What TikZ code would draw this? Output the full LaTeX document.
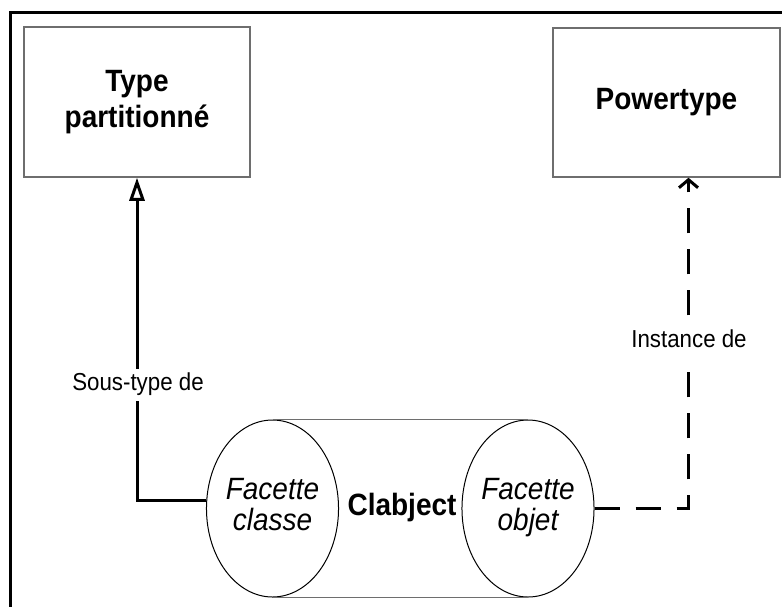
\documentclass[tikz,border=0pt]{standalone}
\usepackage{fontspec}
\setmainfont{Liberation Sans}
\usetikzlibrary{arrows.meta,shapes.geometric,calc}
\definecolor{boxgrey}{RGB}{110,110,110}
% text set a little taller than its width
\newcommand{\tallstack}[1]{\scalebox{1}[1.1]{\begin{tabular}{@{}c@{}}#1\end{tabular}}}
\begin{document}
\begin{tikzpicture}[x=1pt,y=1pt,
  classbox/.style={draw=boxgrey, line width=1.5pt, inner sep=0pt,
    minimum width=226pt, minimum height=150pt,
    font=\fontsize{28}{33}\selectfont\bfseries},
  facet/.style={draw=black, line width=1pt, ellipse, inner sep=0pt,
    minimum height=177pt,
    font=\fontsize{28}{27}\selectfont\itshape},
  body/.style={draw=boxgrey, line width=1.8pt},
  conn/.style={draw=black, line width=3pt},
  inst/.style={conn, dash pattern=on 25pt off 16pt},
  lbl/.style={fill=white, inner sep=2pt, font=\fontsize{22.3}{26}\selectfont}
]
\useasboundingbox (0,0) rectangle (782,-606);

% outer frame, running off the page on the right and at the bottom
\begin{scope}
  \clip (0,0) rectangle (782,-606);
  \draw[line width=3pt] (10,-12) rectangle (800,-620);
\end{scope}

% class boxes
\node[classbox] (tp) at (137,-102) {\tallstack{Type\\partitionné}};
\node[classbox, minimum width=227pt, minimum height=149pt] (pt) at (666.5,-102.5) {\tallstack{Powertype}};

% clabject cylinder: two facets joined by the body
\node[facet, minimum width=103pt] (fc) at (272.5,-508.5) {\tallstack{Facette\\classe}};
\node[facet, minimum width=110pt] (fo) at (528,-508.5) {\tallstack{Facette\\objet}};
\draw[body] (fc.north) -- (fo.north);
\draw[body] (fc.south) -- (fo.south);
\node[font=\fontsize{28}{33}\selectfont\bfseries] (cl) at (402,-508) {\tallstack{Clabject}};

% subtype link
\coordinate (fcw) at ($(fc.west)+(0,8)$);
\draw[conn, -{Triangle[open, length=23pt, width=15pt]}] (fcw) -| (tp.south);
\node[lbl] (sl) at (138,-385) {\tallstack{Sous-type de}};

% instance link
\coordinate (ptin) at ($(pt.south)+(22,0)$);
\draw[inst, -{Straight Barb[length=8pt, width=19pt]}] (fo.east) -| (ptin);
\node[lbl] (il) at (689,-342) {\tallstack{Instance de}};
\end{tikzpicture}
\end{document}
